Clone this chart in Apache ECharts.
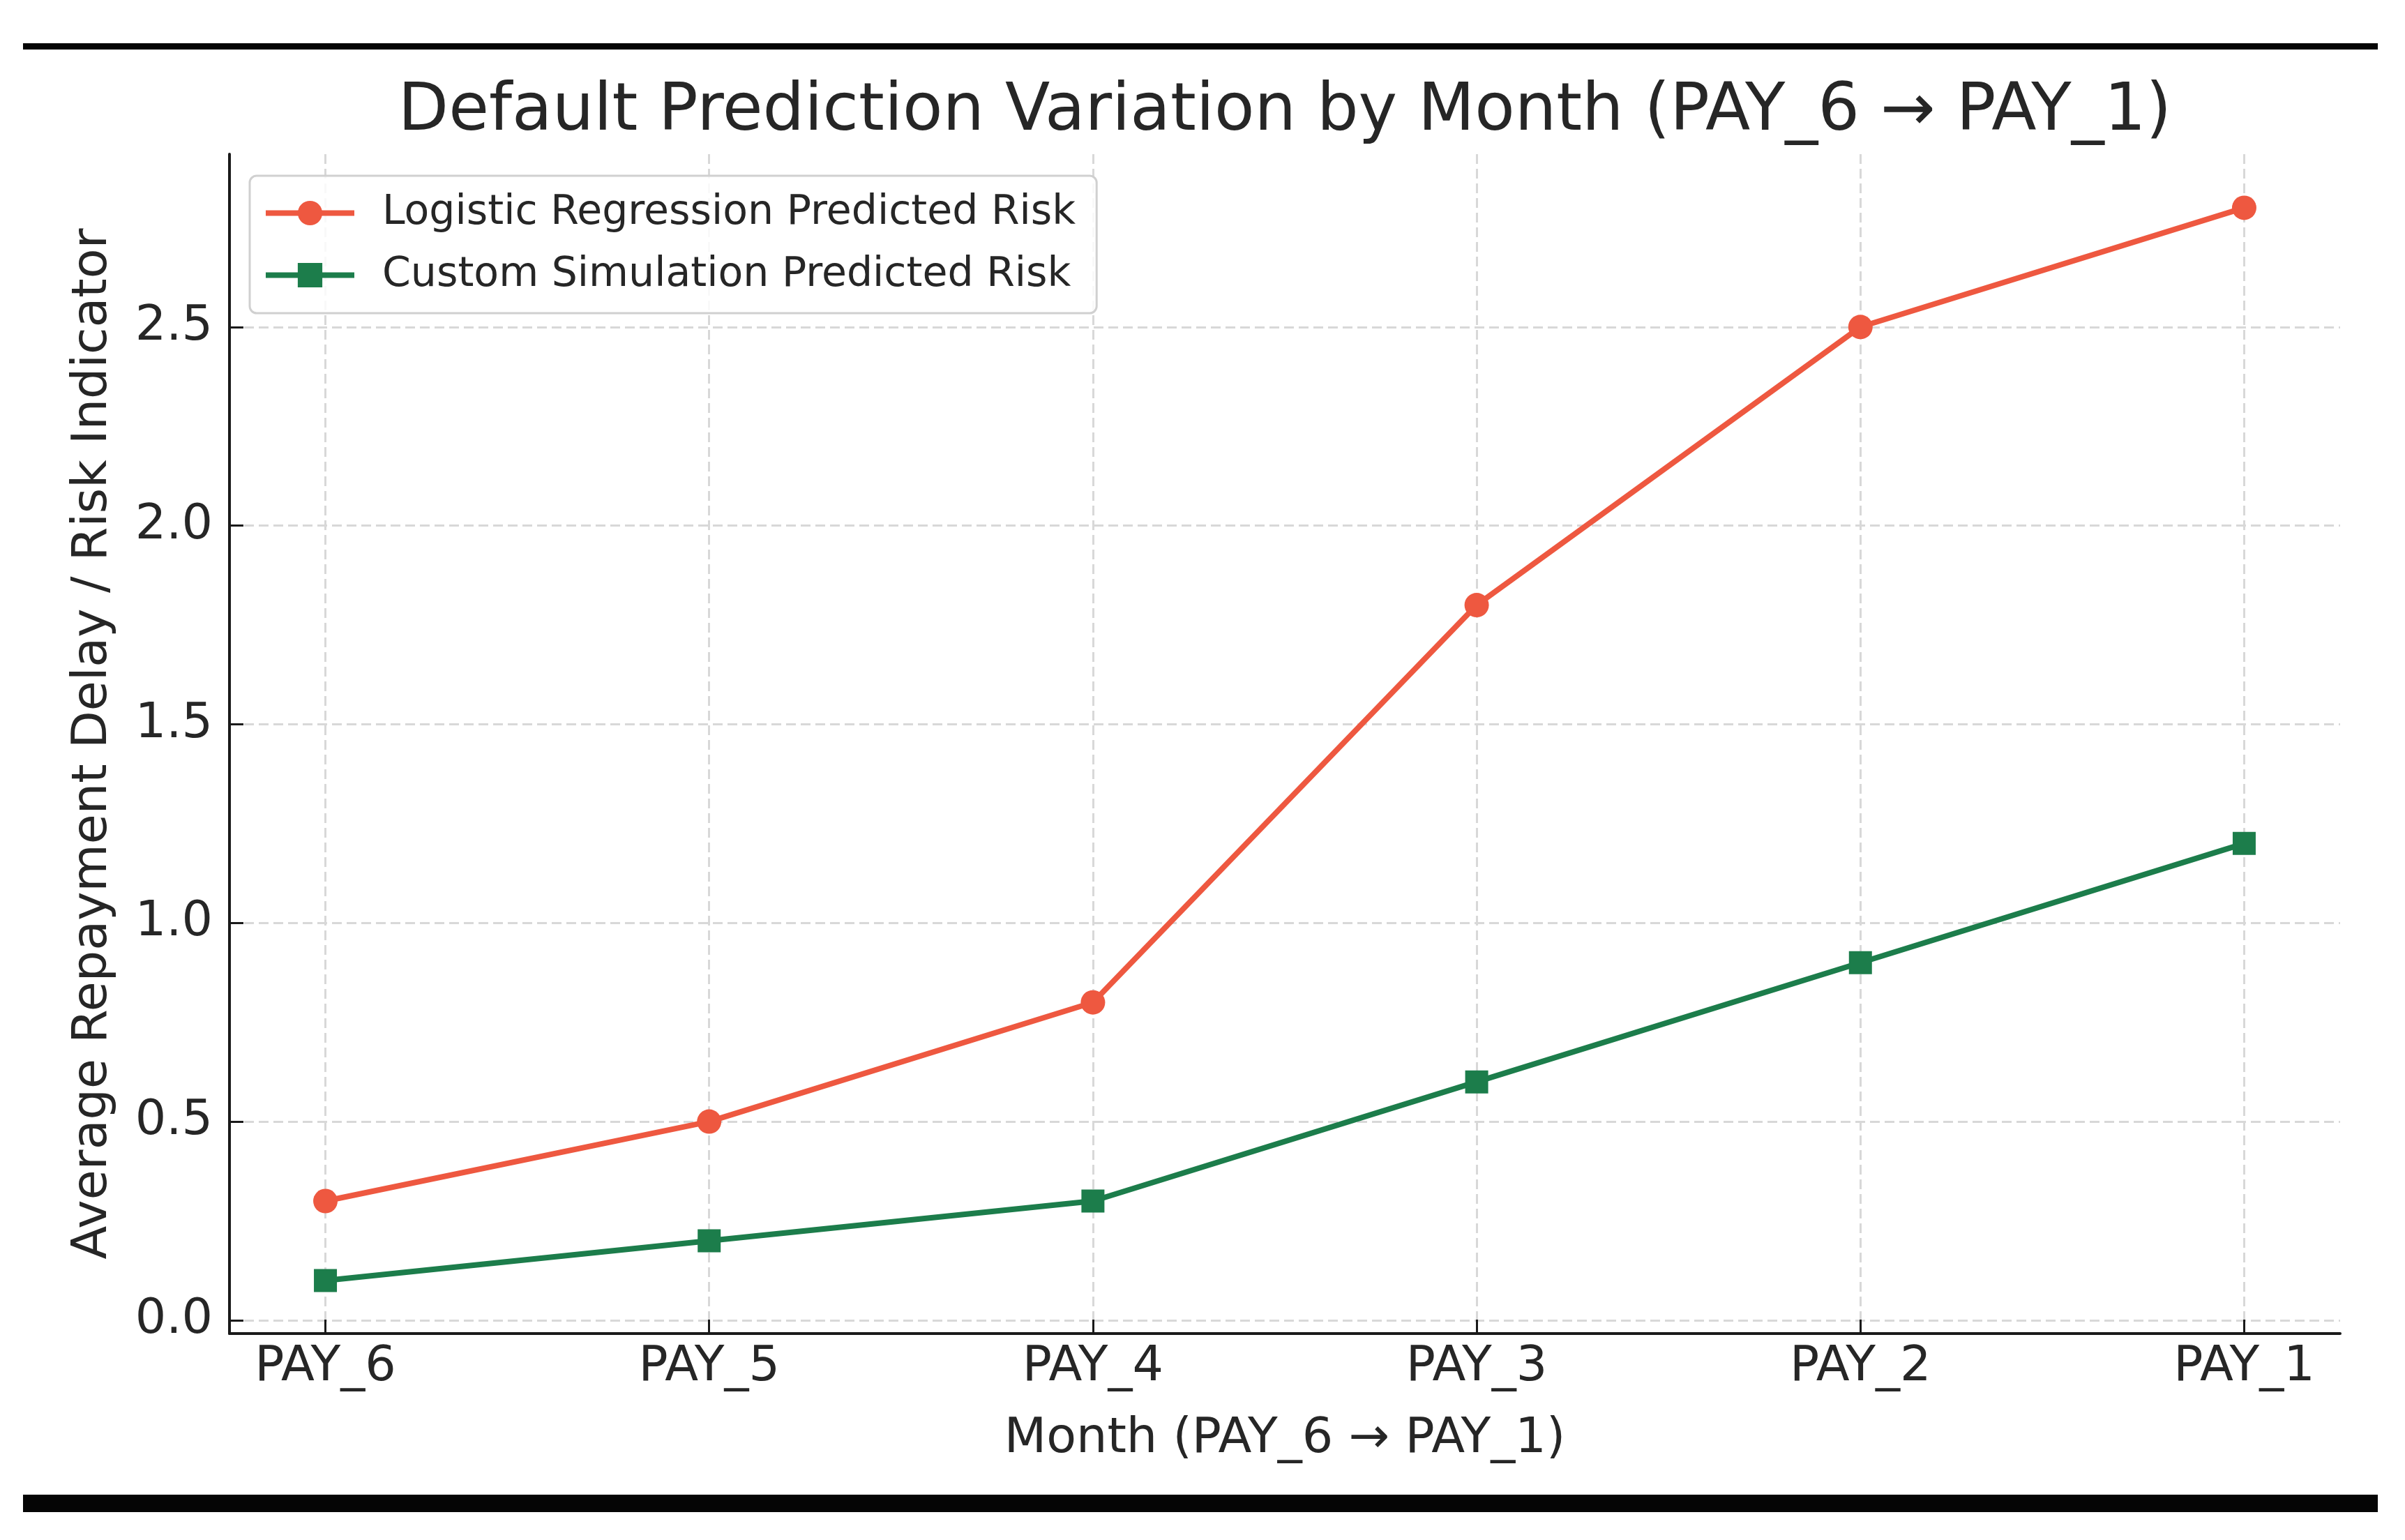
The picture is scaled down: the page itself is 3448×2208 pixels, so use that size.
<!DOCTYPE html>
<html>
<head>
<meta charset="utf-8">
<script src="https://cdn.jsdelivr.net/npm/echarts@6/dist/echarts.min.js"></script>
<style>
html,body{margin:0;padding:0;background:#fff;}
#chart{width:3448px;height:2208px;}
</style>
</head>
<body>
<div id="chart"></div>
<script>
const categories = ['PAY_6', 'PAY_5', 'PAY_4', 'PAY_3', 'PAY_2', 'PAY_1'];
const logisticRisk = [0.3, 0.5, 0.8, 1.8, 2.5, 2.8];
const customRisk = [0.1, 0.2, 0.3, 0.6, 0.9, 1.2];
const yTicks = [0, 0.5, 1.0, 1.5, 2.0, 2.5];
const seriesNames = ['Logistic Regression Predicted Risk', 'Custom Simulation Predicted Risk'];
const titleText = 'Default Prediction Variation by Month (PAY_6 \u2192 PAY_1)';
const xName = 'Month (PAY_6 \u2192 PAY_1)';
const yName = 'Average Repayment Delay / Risk Indicator';

const FONT = 'DejaVu Sans';
const RED = '#EE5840';
const GREEN = '#1C7D4B';
const TXT = '#262626';

const xIdx = categories.map((c, i) => i);
const toPairs = arr => arr.map((v, i) => [i, v]);

const chart = echarts.init(document.getElementById('chart'), null, {renderer: 'canvas'});
const option = {
  backgroundColor: '#ffffff',
  animation: false,
  textStyle: {fontFamily: FONT},
  title: {
    text: titleText,
    left: 1842,
    top: 115,
    padding: 0,
    textAlign: 'center',
    textStyle: {fontFamily: FONT, fontSize: 94, fontWeight: 'normal', color: TXT}
  },
  legend: {
    orient: 'vertical',
    left: 358,
    top: 252,
    padding: [24, 30, 25, 19],
    itemWidth: 127,
    itemHeight: 44,
    itemGap: 30,
    backgroundColor: 'rgba(255,255,255,0.85)',
    borderColor: '#d0d0d0',
    borderWidth: 3,
    borderRadius: 10,
    lineStyle: {width: 8},
    textStyle: {fontFamily: FONT, fontSize: 58.5, color: TXT, lineHeight: 58, padding: [0, 0, 0, 35]},
    data: seriesNames
  },
  grid: {left: 329, right: 93, top: 221, bottom: 296, containLabel: false},
  xAxis: {
    type: 'value',
    min: -0.25,
    max: 5.25,
    name: xName,
    nameLocation: 'middle',
    nameGap: 117,
    nameTextStyle: {fontFamily: FONT, fontSize: 70, color: TXT},
    axisLine: {show: true, onZero: false, lineStyle: {color: '#1a1a1a', width: 4}},
    axisTick: {show: true, inside: true, length: 20, customValues: xIdx, lineStyle: {color: '#1a1a1a', width: 3}},
    axisLabel: {
      customValues: xIdx,
      margin: 14,
      fontFamily: FONT, fontSize: 70, color: TXT,
      formatter: v => categories[Math.round(v)]
    },
    splitLine: {show: true, lineStyle: {color: '#d8d8d8', width: 3, type: [14, 7]}}
  },
  yAxis: {
    type: 'value',
    min: -0.0335,
    max: 2.935,
    name: yName,
    nameLocation: 'middle',
    nameGap: 160,
    nameRotate: 90,
    nameTextStyle: {fontFamily: FONT, fontSize: 70, color: TXT},
    axisLine: {show: true, onZero: false, lineStyle: {color: '#1a1a1a', width: 4}},
    axisTick: {show: true, inside: true, length: 20, customValues: yTicks, lineStyle: {color: '#1a1a1a', width: 3}},
    axisLabel: {
      customValues: yTicks,
      margin: 24,
      fontFamily: FONT, fontSize: 70, color: TXT,
      formatter: v => v.toFixed(1)
    },
    splitLine: {show: true, lineStyle: {color: '#d8d8d8', width: 3, type: [14, 7]}}
  },
  series: [
    {
      name: seriesNames[0],
      type: 'line',
      data: toPairs(logisticRisk),
      symbol: 'circle',
      symbolSize: 35,
      lineStyle: {color: RED, width: 8},
      itemStyle: {color: RED},
      z: 3
    },
    {
      name: seriesNames[1],
      type: 'line',
      data: toPairs(customRisk),
      symbol: 'rect',
      symbolSize: 33,
      lineStyle: {color: GREEN, width: 8},
      itemStyle: {color: GREEN},
      z: 3
    }
  ],
  graphic: [
    {type: 'rect', shape: {x: 33, y: 62, width: 3376, height: 9}, style: {fill: '#050505'}},
    {type: 'rect', shape: {x: 33, y: 2143, width: 3376, height: 25}, style: {fill: '#050505'}}
  ]
};
chart.setOption(option);
</script>
</body>
</html>
